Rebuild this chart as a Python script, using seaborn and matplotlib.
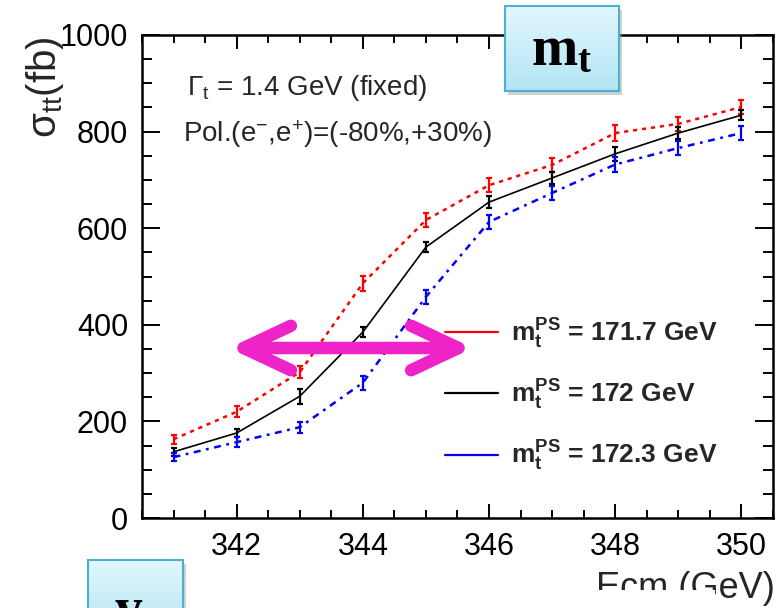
import numpy as np
import pandas as pd
import matplotlib
matplotlib.use("Agg")
import matplotlib.pyplot as plt
import seaborn as sns
from matplotlib.lines import Line2D
from matplotlib.patches import FancyArrowPatch, Rectangle
from matplotlib.ticker import MultipleLocator
from matplotlib.colors import LinearSegmentedColormap

# ---------------- data ----------------
ecm = [341, 342, 343, 344, 345, 346, 347, 348, 349, 350]
sigma_1717 = [163, 220, 302, 486, 617, 689, 731, 797, 816, 851]
err_1717 = [9, 11, 13, 15, 15, 15, 15, 16, 14, 14]
sigma_172 = [137, 176, 252, 385, 561, 654, 704, 754, 797, 834]
err_172 = [8, 9, 16, 10, 10, 12, 13, 14, 12, 10]
sigma_1723 = [126, 157, 188, 280, 458, 613, 673, 732, 766, 797]
err_1723 = [8, 10, 11, 15, 14, 14, 14, 15, 14, 15]
mass_labels = [r"$\mathbf{m_t^{PS}}$ = 171.7 GeV",
               r"$\mathbf{m_t^{PS}}$ = 172 GeV",
               r"$\mathbf{m_t^{PS}}$ = 172.3 GeV"]
x_ticks = [342, 344, 346, 348, 350]
y_ticks = [0, 200, 400, 600, 800, 1000]

# ---------------- style ----------------
sns.set_theme(style="ticks")
plt.rcParams["font.family"] = ["Liberation Sans", "DejaVu Sans"]
plt.rcParams["mathtext.fontset"] = "custom"
plt.rcParams["mathtext.rm"] = "Liberation Sans"
plt.rcParams["mathtext.it"] = "Liberation Sans:italic"
plt.rcParams["mathtext.bf"] = "Liberation Sans:bold"
plt.rcParams["mathtext.sf"] = "Liberation Serif:bold"
plt.rcParams["lines.scale_dashes"] = False

W, H = 784, 608
fig = plt.figure(figsize=(W / 100, H / 100), dpi=100)
fig.patch.set_facecolor("white")
ax = fig.add_axes([142 / W, 1 - 518 / H, (773 - 142) / W, (518 - 35) / H])
ax.set_facecolor("white")

series = [
    (sigma_1717, err_1717, "#ff0000", 1.8, (0, (3, 3.5))),
    (sigma_172, err_172, "#000000", 1.2, "-"),
    (sigma_1723, err_1723, "#0000ff", 1.8, (0, (5, 4, 2, 4))),
]
for vals, errs, col, lw, ls in series:
    sns.lineplot(x=ecm, y=vals, color=col, linewidth=lw, linestyle=ls,
                 ax=ax, errorbar=None, legend=False)
    ax.errorbar(ecm, vals, yerr=errs, fmt="none", ecolor=col,
                elinewidth=1.6, capsize=2.3, capthick=1.6)

ax.set_xlim(340.5, 350.5)
ax.set_ylim(0, 1000)
ax.set_xticks(x_ticks)
ax.set_yticks(y_ticks)
ax.xaxis.set_minor_locator(MultipleLocator(0.5))
ax.yaxis.set_minor_locator(MultipleLocator(50))
ax.set_xlabel("")
ax.set_ylabel("")
for s in ax.spines.values():
    s.set_visible(True)
    s.set_linewidth(1.8)
    s.set_color("black")
ax.tick_params(axis="both", which="both", direction="in", top=True, right=True,
               width=1.4, colors="black", labelsize=22)
ax.tick_params(axis="x", which="major", length=10, pad=10)
ax.tick_params(axis="x", which="minor", length=6)
ax.tick_params(axis="y", which="major", length=13, pad=10)
ax.tick_params(axis="y", which="minor", length=7)

# annotations
ax.text((187 - 142) / 631, (518 - 88) / 483, r"$\Gamma_{\mathrm{t}}$ = 1.4 GeV (fixed)",
        transform=ax.transAxes, fontsize=20, ha="left", va="center")
ax.text((183 - 142) / 631, (518 - 134) / 483, r"Pol.(e$^{-}$,e$^{+}$)=(-80%,+30%)",
        transform=ax.transAxes, fontsize=20, ha="left", va="center")

handles = [Line2D([], [], color=c, lw=1.6) for c in ["#ff0000", "#000000", "#0000ff"]]
ax.legend(handles, mass_labels, loc="center left",
          bbox_to_anchor=((445 - 142) / 631, (518 - 395) / 483),
          frameon=False, borderpad=0, borderaxespad=0, handlelength=2.0,
          handletextpad=0.5, labelspacing=1.02,
          prop={"weight": "bold", "size": 19})

# axis labels
fig.text(45 / W, 1 - 36 / H, r"$\mathrm{\sigma_{tt}}$(fb)", rotation=90,
         ha="center", va="top", fontsize=29)
fig.text(775 / W, 1 - 598 / H, "Ecm (GeV)", ha="right", va="baseline", fontsize=26)
fig.patches.append(Rectangle((585 / W, 0), (715 - 585) / W, (608 - 590) / H,
                             transform=fig.transFigure, facecolor="white",
                             edgecolor="none", zorder=5))

# magenta double arrow
arrow = FancyArrowPatch((229 / W, 1 - 348 / H), (473 / W, 1 - 348 / H),
                        transform=fig.transFigure,
                        arrowstyle="<->,head_length=34,head_width=16",
                        color="#ee24c9", lw=9, mutation_scale=1,
                        shrinkA=0, shrinkB=0,
                        capstyle="round", joinstyle="round", zorder=20)
fig.patches.append(arrow)

# light-blue label boxes
cmap = LinearSegmentedColormap.from_list("g", ["#e3f7fd", "#b2e4f5"])


def label_box(x0, y0, w, h, text, ty, fs):
    fig.patches.append(Rectangle(((x0 + 3) / W, 1 - (y0 + h + 4) / H), w / W, h / H,
                                 transform=fig.transFigure, facecolor="#9a9a9a",
                                 edgecolor="none", alpha=0.45, zorder=9))
    bax = fig.add_axes([x0 / W, 1 - (y0 + h) / H, w / W, h / H], zorder=10)
    bax.imshow(np.linspace(0, 1, 100).reshape(-1, 1), aspect="auto", cmap=cmap,
               extent=[0, 1, 0, 1], origin="upper")
    bax.set_xlim(0, 1)
    bax.set_ylim(0, 1)
    bax.set_xticks([])
    bax.set_yticks([])
    for s in bax.spines.values():
        s.set_visible(True)
        s.set_color("#4db0cf")
        s.set_linewidth(1.5)
    bax.text(0.5, ty, text, ha="center", va="baseline", fontsize=fs, color="black")


label_box(505, 6, 114, 85, r"$\mathsf{m_t}$", 0.3, 40)
label_box(88, 560, 95, 75, r"$\mathsf{y_t}$", 0.12, 40)

fig.savefig("out.png", dpi=100)
